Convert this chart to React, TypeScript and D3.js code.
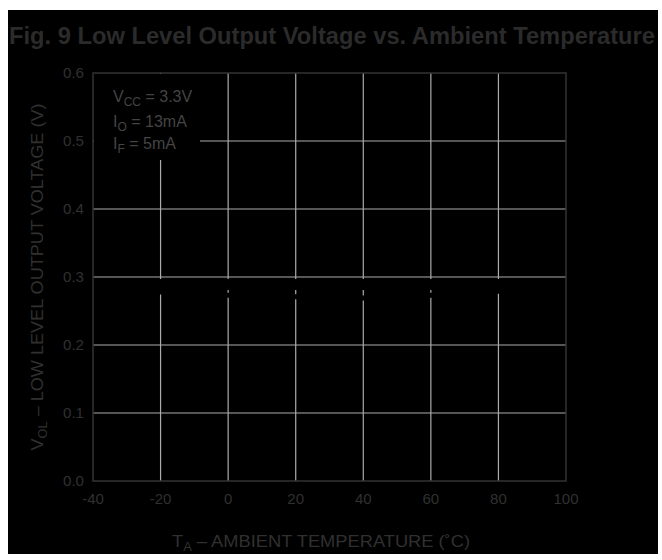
import React from "react";
import * as d3 from "d3";

const temps = [-40, -20, 0, 20, 40, 60, 80, 100];
const upperCurve = [0.289, 0.289, 0.289, 0.289, 0.289, 0.289, 0.289, 0.289];
const lowerCurve = [0.284, 0.278, 0.273, 0.271, 0.269, 0.273, 0.279, 0.287];
const xTicks = [-40, -20, 0, 20, 40, 60, 80, 100];
const yTicks = [0.0, 0.1, 0.2, 0.3, 0.4, 0.5, 0.6];

const W = 662;
const H = 560;
const x = d3.scaleLinear().domain([-40, 100]).range([93, 566]);
const y = d3.scaleLinear().domain([0, 0.6]).range([481, 73]);

const font = "'Liberation Sans', Arial, sans-serif";

export default function App() {
  const line = d3
    .line<number>()
    .x((_, i) => x(temps[i]))
    .y((d) => y(d))
    .curve(d3.curveMonotoneX);
  const grid = "#ababab";
  const frame = "#333";
  const txt = "#303030";
  return (
    <div style={{ position: "absolute", left: 0, top: 0 }}>
      <svg width={W} height={H} style={{ display: "block" }}>
        <rect x={0} y={0} width={W} height={H} fill="#fff" />
        <rect x={8} y={10} width={650} height={544} fill="#000" />
        <text
          x={9}
          y={44}
          fontFamily={font}
          fontWeight="bold"
          fontSize={23}
          fill="#2b2b2b"
          textLength={646}
          lengthAdjust="spacingAndGlyphs"
        >
          Fig. 9 Low Level Output Voltage vs. Ambient Temperature
        </text>
        {yTicks.slice(1, -1).map((t) => (
          <line key={"h" + t} x1={x(-40)} x2={x(100)} y1={y(t)} y2={y(t)} stroke={grid} strokeWidth={1.2} />
        ))}
        {xTicks.slice(1, -1).map((t) => (
          <line key={"v" + t} x1={x(t)} x2={x(t)} y1={y(0)} y2={y(0.6)} stroke={grid} strokeWidth={1.2} />
        ))}
        <rect x={x(-40) + 1} y={y(0.6) + 1} width={200 - x(-40) - 1} height={160 - y(0.6) - 1} fill="#000" />
        <path d={line(upperCurve) || ""} fill="none" stroke="#000" strokeWidth={11} />
        <path d={line(lowerCurve) || ""} fill="none" stroke="#000" strokeWidth={5} />
        <rect x={x(-40)} y={y(0.6)} width={x(100) - x(-40)} height={y(0) - y(0.6)} fill="none" stroke={frame} strokeWidth={1.5} />
        {yTicks.map((t) => (
          <text key={"yl" + t} x={84} y={y(t) + 5} textAnchor="end" fontFamily={font} fontSize={15} fill={txt} textLength={21} lengthAdjust="spacingAndGlyphs">
            {t.toFixed(1)}
          </text>
        ))}
        {xTicks.map((t) => (
          <text key={"xl" + t} x={x(t)} y={504} textAnchor="middle" fontFamily={font} fontSize={15} fill={txt}>
            {t}
          </text>
        ))}
        <text
          x={321}
          y={547}
          textAnchor="middle"
          fontFamily={font}
          fontSize={17}
          fill={txt}
          textLength={298}
          lengthAdjust="spacingAndGlyphs"
        >
          T<tspan fontSize={12} dy={4}>A</tspan>
          <tspan dy={-4}> – AMBIENT TEMPERATURE (˚C)</tspan>
        </text>
        <text
          transform={`translate(43, 277) rotate(-90)`}
          textAnchor="middle"
          fontFamily={font}
          fontSize={17}
          fill={txt}
          textLength={347}
          lengthAdjust="spacingAndGlyphs"
        >
          V<tspan fontSize={12} dy={4}>OL</tspan>
          <tspan dy={-4}> – LOW LEVEL OUTPUT VOLTAGE (V)</tspan>
        </text>
        <g fontFamily={font} fontSize={16} fill="#444">
          <text x={113} y={102}>
            V<tspan fontSize={12} dy={4}>CC</tspan>
            <tspan dy={-4}> = 3.3V</tspan>
          </text>
          <text x={113} y={127}>
            I<tspan fontSize={12} dy={4}>O</tspan>
            <tspan dy={-4}> = 13mA</tspan>
          </text>
          <text x={113} y={149}>
            I<tspan fontSize={12} dy={4}>F</tspan>
            <tspan dy={-4}> = 5mA</tspan>
          </text>
        </g>
      </svg>
    </div>
  );
}
